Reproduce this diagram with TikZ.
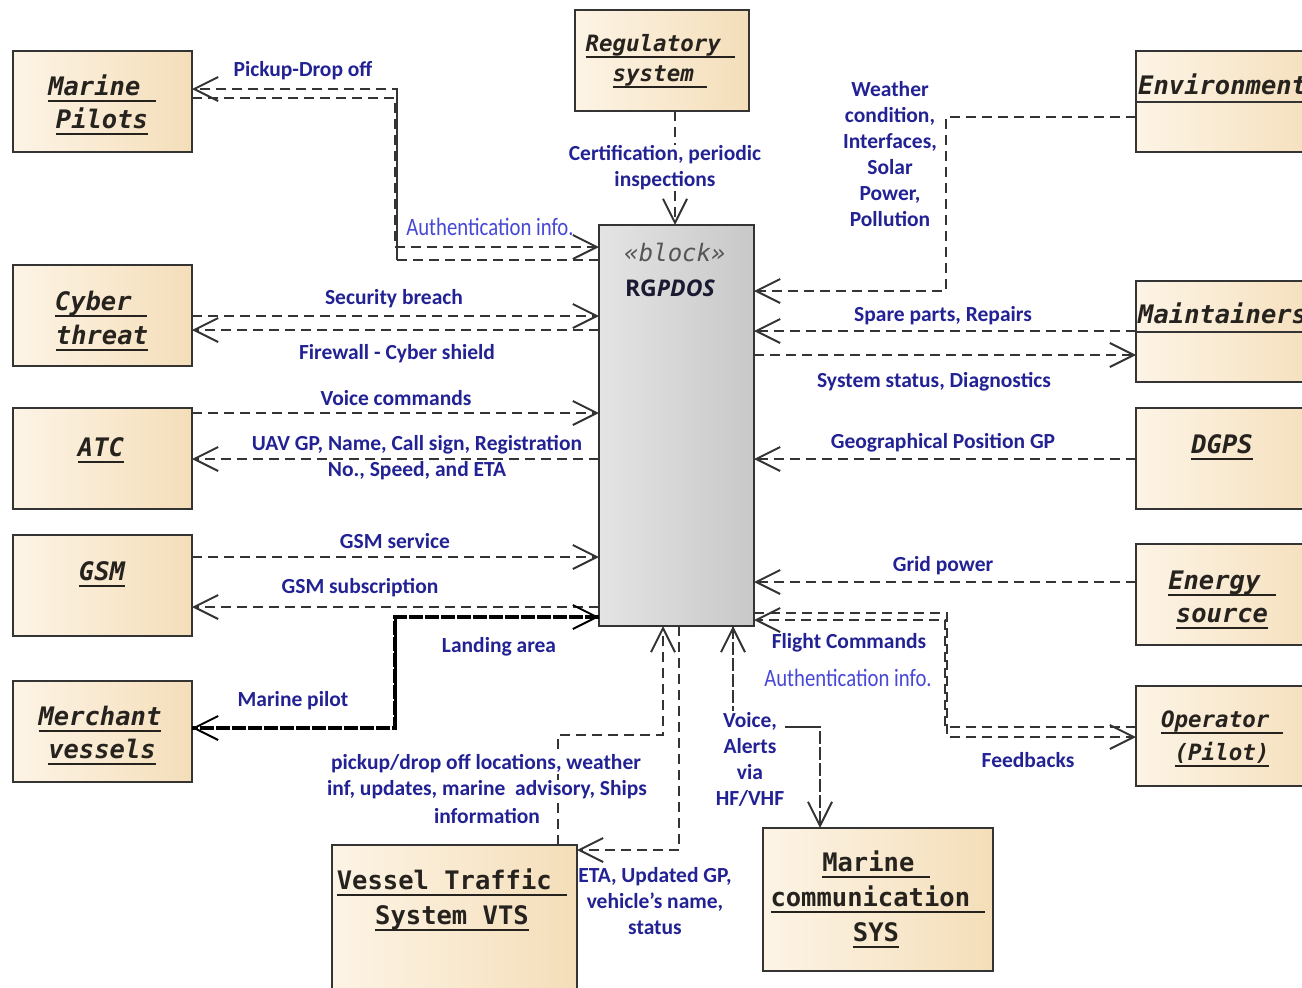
\documentclass[tikz,border=0pt]{standalone}
\usepackage{fontspec}
\usepackage{graphicx}
\setmainfont{Carlito}
\newfontfamily\monofam{DejaVu Sans Mono}
\newfontfamily\blkfont{Open Sans}
\usetikzlibrary{arrows.meta}

\definecolor{lblue}{RGB}{34,34,148}
\definecolor{ablue}{RGB}{72,72,215}
\definecolor{edge}{RGB}{52,52,52}
\definecolor{ink}{RGB}{38,34,30}
\definecolor{creamL}{RGB}{253,244,230}
\definecolor{creamR}{RGB}{244,222,185}
\definecolor{grayL}{RGB}{228,228,228}
\definecolor{grayR}{RGB}{200,200,200}
\definecolor{stereo}{RGB}{85,85,85}
\definecolor{navy}{RGB}{25,25,50}

% underlined line of box text (trailing spaces are underlined too)
\newcommand\ulin[1]{\setbox0\hbox{#1}\rlap{\rule[-7.2pt]{\wd0}{2.4pt}}\box0}

\tikzset{
  entity/.style={draw=edge, line width=2.2pt, left color=creamL, right color=creamR,
                 inner sep=0pt, outer sep=0pt},
  sysblock/.style={draw=edge, line width=2.2pt, left color=grayL, right color=grayR,
                 inner sep=0pt, outer sep=0pt},
  btxt/.style={font=\monofam\bfseries\itshape\fontsize{25.5}{30}\selectfont, text=ink,
               anchor=base, inner sep=0pt},
  btxts/.style={btxt, font=\monofam\bfseries\itshape\fontsize{22.5}{27}\selectfont},
  btxtup/.style={btxt, font=\monofam\bfseries\fontsize{25.5}{30}\selectfont},
  lbl/.style={font=\bfseries\fontsize{21.5}{26}\selectfont, text=lblue, align=center, inner sep=1pt},
  alb/.style={font=\fontsize{25}{28}\selectfont, text=ablue, inner sep=1pt},
  barb/.tip={Straight Barb[length=24pt,width=24pt,line width=2pt]},
  flow/.style={draw=edge, line width=2.6pt, dash pattern=on 10pt off 6pt, -barb},
  heavy/.style={flow, draw=black, line width=3.4pt, dash pattern=on 11pt off 5pt},
  joint/.style={draw=edge, line width=2.6pt},
  divider/.style={draw=edge, line width=2.4pt}
}

\begin{document}
\begin{tikzpicture}[x=1pt,y=-1pt]
\useasboundingbox (0,0) rectangle (1302,988);
\fill[white] (0,0) rectangle (1302,988);

% ---- central block ----
\node[sysblock, minimum width=155pt, minimum height=401pt] (blk) at (676.5,425.5) {};
\node[font=\monofam\itshape\fontsize{24}{28}\selectfont, text=stereo, anchor=base, inner sep=0pt]
  (blkster) at (675,261) {«block»};
\node[font=\blkfont\bfseries\fontsize{23}{28}\selectfont, text=navy, anchor=base, inner sep=0pt]
  (blkname) at (670,296) {RG\textit{PDOS}};

% ---- external entities ----
\node[entity, minimum width=179pt, minimum height=101pt] (mp) at (102.5,101.5) {};
\node[entity, minimum width=174pt, minimum height=101pt] (reg) at (662,60.5) {};
\node[entity, minimum width=194pt, minimum height=101pt] (env) at (1233,101.5) {};
\node[entity, minimum width=179pt, minimum height=101pt] (cyb) at (102.5,315.5) {};
\node[entity, minimum width=194pt, minimum height=101pt] (mnt) at (1233,331.5) {};
\node[entity, minimum width=179pt, minimum height=101pt] (atc) at (102.5,458.5) {};
\node[entity, minimum width=194pt, minimum height=101pt] (dgps) at (1233,458.5) {};
\node[entity, minimum width=179pt, minimum height=101pt] (gsm) at (102.5,585.5) {};
\node[entity, minimum width=194pt, minimum height=101pt] (nrg) at (1233,594.5) {};
\node[entity, minimum width=179pt, minimum height=101pt] (mv) at (102.5,731.5) {};
\node[entity, minimum width=194pt, minimum height=100pt] (op) at (1233,736) {};
\node[entity, minimum width=245pt, minimum height=155pt] (vts) at (454.5,922.5) {};
\node[entity, minimum width=230pt, minimum height=143pt] (mcs) at (878,899.5) {};

% ---- entity names ----
\node[btxt] (mpt1) at (102,95) {\ulin{Marine\ }};
\node[btxt] (mpt2) at (102,128) {\ulin{Pilots}};
\node[btxts] (regt1) at (660,51) {\ulin{Regulatory\ }};
\node[btxts] (regt2) at (660,81) {\ulin{system\ }};
\node[btxt, anchor=base west] (envt) at (1138,94) {Environment};
\draw[divider] (env.west |- 0,102) -- (env.east |- 0,102);
\node[btxt] (cybt1) at (101,310) {\ulin{Cyber\ }};
\node[btxt] (cybt2) at (102,344) {\ulin{threat}};
\node[btxt, anchor=base west] (mntt) at (1138,323) {Maintainers};
\draw[divider] (mnt.west |- 0,332) -- (mnt.east |- 0,332);
\node[btxt] (atct) at (101,456) {\ulin{ATC}};
\node[btxt] (dgpst) at (1222,453) {\ulin{DGPS}};
\node[btxt] (gsmt) at (102,580) {\ulin{GSM}};
\node[btxt] (nrgt1) at (1222,589) {\ulin{Energy\ }};
\node[btxt] (nrgt2) at (1222,622) {\ulin{source}};
\node[btxt] (mvt1) at (100,725) {\ulin{Merchant}};
\node[btxt] (mvt2) at (102,758) {\ulin{vessels}};
\node[btxts] (opt1) at (1222,727) {\ulin{Operator\ }};
\node[btxts] (opt2) at (1222,760) {\ulin{(Pilot)}};
\node[btxtup] (vtst1) at (452,889) {\ulin{Vessel Traffic\ }};
\node[btxtup] (vtst2) at (452,924) {\ulin{System VTS}};
\node[btxtup] (mcst1) at (876,871) {\ulin{Marine\ }};
\node[btxtup] (mcst2) at (878,906) {\ulin{communication\ }};
\node[btxtup] (mcst3) at (876,941) {\ulin{SYS}};

% ---- bend points ----
\coordinate (mpo1) at (397,89);  \coordinate (mpo2) at (397,260);
\coordinate (mpi1) at (395,98);  \coordinate (mpi2) at (395,247);
\coordinate (envb1) at (946,117); \coordinate (envb2) at (946,291);
\coordinate (mvb1) at (395,728); \coordinate (mvb2) at (395,617);
\coordinate (opi1) at (945,727); \coordinate (opi2) at (945,620);
\coordinate (opo1) at (947,613); \coordinate (opo2) at (947,737);
\coordinate (vtsb1) at (558,735); \coordinate (vtsb2) at (663,735);
\coordinate (etab) at (679,850);
\coordinate (mcsb1) at (820,727); \coordinate (mcsb2) at (733,727);

% ---- flows ----
% Marine pilots
\draw[flow] (blk.west |- mpo2) -- (mpo2) -- (mpo1) -- (mp.east |- mpo1);
\draw[flow] (mp.east |- mpi1) -- (mpi1) -- (mpi2) -- (blk.west |- mpi2);
\draw[joint] (mpo1) -- (mpo2);
% regulatory system
\draw[flow] (reg.south -| 675,0) -- (blk.north -| 675,0);
% environment
\draw[flow] (env.west |- envb1) -- (envb1) -- (envb2) -- (blk.east |- envb2);
% cyber threat
\draw[flow] (cyb.east |- 0,316) -- (blk.west |- 0,316);
\draw[flow] (blk.west |- 0,330) -- (cyb.east |- 0,330);
% maintainers
\draw[flow] (mnt.west |- 0,331) -- (blk.east |- 0,331);
\draw[flow] (blk.east |- 0,355) -- (mnt.west |- 0,355);
% ATC
\draw[flow] (atc.east |- 0,413) -- (blk.west |- 0,413);
\draw[flow] (blk.west |- 0,459) -- (atc.east |- 0,459);
% DGPS
\draw[flow] (dgps.west |- 0,459) -- (blk.east |- 0,459);
% GSM
\draw[flow] (gsm.east |- 0,557) -- (blk.west |- 0,557);
\draw[flow] (blk.west |- 0,607) -- (gsm.east |- 0,607);
% energy source
\draw[flow] (nrg.west |- 0,582) -- (blk.east |- 0,582);
% merchant vessels: landing area (to the block) and marine pilot (from it)
\draw[heavy, barb-] (blk.west |- mvb2) -- (mvb2) -- (mvb1) -- (mv.east |- mvb1);
\draw[heavy] (blk.west |- mvb2) -- (mvb2) -- (mvb1) -- (mv.east |- mvb1);
\draw[joint, draw=black, line width=3pt] (mvb1) -- (mvb2);
% operator
\draw[flow] (op.west |- opi1) -- (opi1) -- (opi2) -- (blk.east |- opi2);
\draw[flow] (blk.east |- opo1) -- (opo1) -- (opo2) -- (op.west |- opo2);
% vessel traffic system
\draw[flow] (vts.north -| vtsb1) -- (vtsb1) -- (vtsb2) -- (blk.south -| vtsb2);
\draw[flow] (blk.south -| etab) -- (etab) -- (vts.east |- etab);
% marine communication: both directions along one route
\draw[flow, barb-] (blk.south -| mcsb2) -- (mcsb2) -- (mcsb1) -- (mcs.north -| mcsb1);
\draw[flow] (blk.south -| mcsb2) -- (mcsb2) -- (mcsb1) -- (mcs.north -| mcsb1);
\draw[joint] (mcsb2) -- (mcsb1);

% ---- flow labels ----
\node[lbl] (l1) at (303,71) {Pickup-Drop off};
\node[alb] (l2) at (490,227) {\scalebox{0.83}[1]{Authentication info.}};
\node[lbl, fill=white] (l3) at (665,168) {Certification, periodic\\inspections};
\node[lbl] (l4) at (890,154.5) {Weather\\condition,\\Interfaces,\\Solar\\Power,\\Pollution};
\node[lbl] (l5) at (394,299) {Security breach};
\node[lbl] (l6) at (397,354) {Firewall - Cyber shield};
\node[lbl] (l7) at (943,316) {Spare parts, Repairs};
\node[lbl] (l8) at (934,382) {System status, Diagnostics};
\node[lbl] (l9) at (396,398) {Voice commands};
\node[lbl] (l10) at (417,445) {UAV GP, Name, Call sign, Registration};
\node[lbl] (l11) at (417,471) {No., Speed, and ETA};
\node[lbl] (l12) at (943,443) {Geographical Position GP};
\node[lbl] (l13) at (395,541) {GSM service};
\node[lbl] (l14) at (360,588) {GSM subscription};
\node[lbl] (l15) at (943,566) {Grid power};
\node[lbl] (l16) at (499,647) {Landing area};
\node[lbl] (l17) at (849,643) {Flight Commands};
\node[alb] (l18) at (848,678) {\scalebox{0.83}[1]{Authentication info.}};
\node[lbl] (l19) at (293,701) {Marine pilot};
\node[lbl, fill=white] (l20) at (750,759) {Voice,\\Alerts\\via\\HF/VHF};
\node[lbl] (l21) at (1028,760) {Feedbacks};
\node[lbl, fill=white] (l22a) at (486,764) {pickup/drop off locations, weather};
\node[lbl, fill=white] (l22b) at (487,790) {inf, updates, marine~ advisory, Ships};
\node[lbl] (l22c) at (487,816) {information};
\node[lbl] (l23) at (655,901.5) {ETA, Updated GP,\\vehicle's name,\\status};
\end{tikzpicture}
\end{document}
